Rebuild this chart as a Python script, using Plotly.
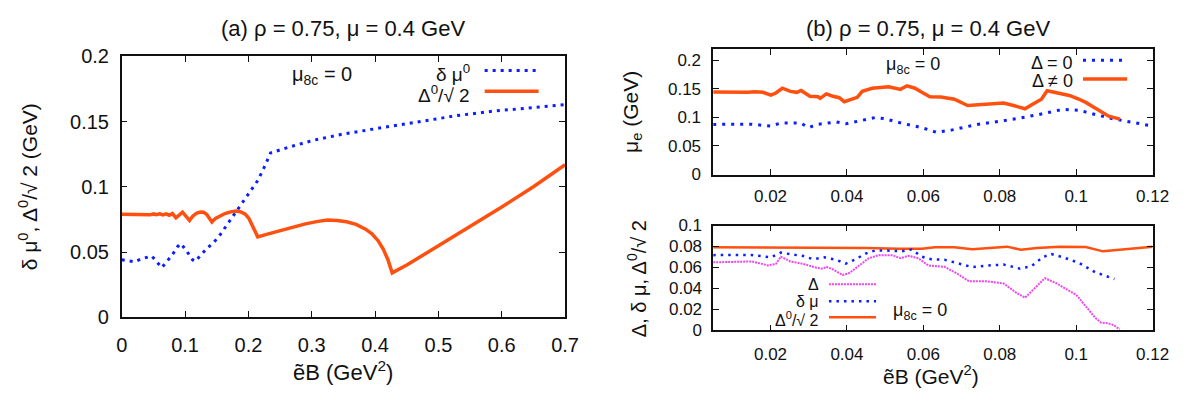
import plotly.graph_objects as go

# ---------------- panel (a): delta mu^0 and Delta^0/sqrt2 vs eB ----------------
eb_a_gap = [0, 0.01, 0.02, 0.03, 0.04, 0.045, 0.05, 0.055, 0.06, 0.065, 0.07, 0.075,
            0.08, 0.0856, 0.096, 0.107, 0.112, 0.118, 0.124, 0.129, 0.134, 0.138,
            0.1424, 0.148, 0.155, 0.163, 0.172, 0.181, 0.188, 0.195, 0.201, 0.206,
            0.21, 0.2147, 0.23, 0.25, 0.27, 0.29, 0.31, 0.325, 0.34, 0.355, 0.37,
            0.385, 0.395, 0.405, 0.413, 0.42, 0.427, 0.45, 0.5, 0.55, 0.6, 0.65, 0.7]
gap_a = [0.079, 0.079, 0.0789, 0.0788, 0.079, 0.0785, 0.0792, 0.0786, 0.0793, 0.0784,
         0.0792, 0.0782, 0.0795, 0.0762, 0.0805, 0.0742, 0.0775, 0.0797, 0.0807,
         0.0805, 0.079, 0.0765, 0.073, 0.0758, 0.0778, 0.0795, 0.0808, 0.0815,
         0.0808, 0.079, 0.0755, 0.070, 0.0655, 0.0616, 0.0637, 0.0665, 0.0692,
         0.0716, 0.0735, 0.0745, 0.0742, 0.0732, 0.0712, 0.0675, 0.064, 0.0585,
         0.052, 0.0445, 0.034, 0.040, 0.0548, 0.0695, 0.0845, 0.100, 0.117]

eb_a_dmu = [0, 0.01, 0.02, 0.03, 0.04, 0.047, 0.052, 0.058, 0.063, 0.07, 0.08, 0.088,
            0.093, 0.1, 0.107, 0.112, 0.116, 0.125, 0.135, 0.145, 0.155, 0.165,
            0.175, 0.185, 0.195, 0.205, 0.215, 0.225, 0.235, 0.268, 0.303, 0.351,
            0.41, 0.469, 0.528, 0.587, 0.65, 0.7]
dmu_a = [0.044, 0.0435, 0.0425, 0.0445, 0.046, 0.047, 0.0445, 0.0405, 0.038, 0.042,
         0.048, 0.054, 0.0565, 0.0525, 0.0475, 0.044, 0.0428, 0.048, 0.053, 0.0572,
         0.063, 0.070, 0.077, 0.084, 0.091, 0.097, 0.105, 0.115, 0.126, 0.131,
         0.1357, 0.1406, 0.1454, 0.150, 0.1545, 0.158, 0.1605, 0.163]

# ---------------- panel (b) top: electron chemical potential ----------------
eb_b_mue_gap = [0.005, 0.008, 0.011, 0.014, 0.016, 0.018, 0.0201, 0.0214, 0.0231,
                0.0252, 0.0269, 0.028, 0.0303, 0.0325, 0.033, 0.0346, 0.0363, 0.038,
                0.0393, 0.0414, 0.0427, 0.044, 0.0466, 0.0509, 0.0518, 0.054, 0.0557,
                0.0578, 0.0596, 0.0617, 0.0646, 0.0681, 0.0716, 0.0758, 0.081,
                0.0836, 0.0866, 0.0887, 0.0909, 0.0924, 0.0956, 0.0982, 0.1008,
                0.1025, 0.1045, 0.1065, 0.1085, 0.1115]
mue_gap = [0.1445, 0.1442, 0.1447, 0.1440, 0.1450, 0.1438, 0.1388, 0.1427, 0.1510,
           0.1455, 0.1438, 0.1471, 0.137, 0.136, 0.1333, 0.141, 0.137, 0.1344,
           0.1273, 0.1317, 0.1350, 0.1455, 0.151, 0.1537, 0.1526, 0.149, 0.1553,
           0.151, 0.1438, 0.136, 0.1355, 0.1317, 0.1207, 0.123, 0.125, 0.1207,
           0.1151, 0.1235, 0.1317, 0.1466, 0.1427, 0.1383, 0.1317, 0.1262, 0.118,
           0.1095, 0.102, 0.097]

eb_b_mue_nogap = [0.005, 0.01, 0.015, 0.0201, 0.0227, 0.0278, 0.030, 0.032, 0.0372,
                  0.0397, 0.0423, 0.0474, 0.050, 0.054, 0.0596, 0.0634, 0.0673,
                  0.0741, 0.0827, 0.0896, 0.0965, 0.1008, 0.105, 0.11, 0.115, 0.12]
mue_nogap = [0.0877, 0.0877, 0.0880, 0.0848, 0.0903, 0.0903, 0.082, 0.0876, 0.092,
             0.0887, 0.092, 0.0997, 0.0975, 0.0903, 0.082, 0.0738, 0.0777, 0.0876,
             0.0959, 0.1041, 0.114, 0.1124, 0.105, 0.097, 0.091, 0.0848]

# ---------------- panel (b) bottom: gaps and delta mu ----------------
eb_b_gap0 = [0.005, 0.015, 0.025, 0.035, 0.045, 0.0536, 0.0596, 0.063, 0.0681,
             0.0728, 0.0784, 0.0819, 0.0855, 0.0897, 0.0957, 0.1025, 0.107, 0.112,
             0.12]
gap0_b = [0.0793, 0.0793, 0.0792, 0.0793, 0.0787, 0.0778, 0.0780, 0.0793, 0.0793,
          0.0774, 0.0793, 0.0799, 0.0769, 0.0786, 0.0799, 0.0795, 0.0754, 0.0772,
          0.0799]

eb_b_dmu = [0.005, 0.01, 0.015, 0.0201, 0.0227, 0.0252, 0.0286, 0.0312, 0.0342,
            0.0372, 0.0397, 0.0423, 0.0449, 0.0474, 0.050, 0.0544, 0.0569, 0.0596,
            0.0621, 0.0656, 0.069, 0.0728, 0.0767, 0.081, 0.0853, 0.0883, 0.0913,
            0.0935, 0.0966, 0.1008, 0.105, 0.110]
dmu_b = [0.0718, 0.0716, 0.0720, 0.0697, 0.0742, 0.0727, 0.0709, 0.0679, 0.0697,
         0.0673, 0.0637, 0.0679, 0.0733, 0.0763, 0.0763, 0.0754, 0.0772, 0.0703,
         0.0679, 0.0673, 0.0643, 0.0604, 0.0619, 0.0628, 0.0589, 0.0613, 0.0700,
         0.0728, 0.0697, 0.0643, 0.0555, 0.049]

eb_b_gap = [0.005, 0.01, 0.0152, 0.0193, 0.0214, 0.0227, 0.0252, 0.0286, 0.032,
            0.0337, 0.0346, 0.0363, 0.0389, 0.0406, 0.0431, 0.0457, 0.0483, 0.0518,
            0.054, 0.0561, 0.0587, 0.0613, 0.0656, 0.069, 0.072, 0.0767, 0.081,
            0.0844, 0.0866, 0.0887, 0.0918, 0.0948, 0.0977, 0.100, 0.1016, 0.1035,
            0.105, 0.1065, 0.108, 0.1095, 0.1114]
gap_b = [0.0649, 0.0650, 0.0658, 0.0620, 0.0634, 0.0703, 0.0658, 0.0634, 0.0598,
         0.0589, 0.0607, 0.0583, 0.0529, 0.0547, 0.0613, 0.0688, 0.0718, 0.0718,
         0.0688, 0.0712, 0.0688, 0.0619, 0.0607, 0.0538, 0.0468, 0.0468, 0.0448,
         0.0357, 0.0312, 0.0387, 0.0498, 0.045, 0.039, 0.034, 0.027, 0.018, 0.012,
         0.0075, 0.007, 0.0055, 0.0012]

x_ticks_a = [0, 0.1, 0.2, 0.3, 0.4, 0.5, 0.6, 0.7]
x_labels_a = ["0", "0.1", "0.2", "0.3", "0.4", "0.5", "0.6", "0.7"]
y_ticks_a = [0, 0.05, 0.1, 0.15, 0.2]
y_labels_a = ["0", "0.05", "0.1", "0.15", "0.2"]
x_ticks_b = [0.02, 0.04, 0.06, 0.08, 0.1, 0.12]
x_labels_b = ["0.02", "0.04", "0.06", "0.08", "0.1", "0.12"]
y_ticks_bt = [0, 0.05, 0.1, 0.15, 0.2]
y_labels_bt = ["0", "0.05", "0.1", "0.15", "0.2"]
y_ticks_bb = [0, 0.02, 0.04, 0.06, 0.08, 0.1]
y_labels_bb = ["0", "0.02", "0.04", "0.06", "0.08", "0.1"]

W, H = 1202, 401
FONT = "Liberation Sans, Arial, Helvetica, sans-serif"
ORANGE = "#ff5010"
BLUE = "#0a1eff"
PINK = "#f045f0"


def px(x):
    return x / W


def py(y):
    return 1 - y / H


fig = go.Figure()

# panel (a)
fig.add_trace(go.Scatter(x=eb_a_dmu, y=dmu_a, mode="lines", xaxis="x", yaxis="y",
                         line=dict(color=BLUE, width=3, dash="3px,5px")))
fig.add_trace(go.Scatter(x=eb_a_gap, y=gap_a, mode="lines", xaxis="x", yaxis="y",
                         line=dict(color=ORANGE, width=3.5)))
# panel (b) top
fig.add_trace(go.Scatter(x=eb_b_mue_nogap, y=mue_nogap, mode="lines", xaxis="x2", yaxis="y2",
                         line=dict(color=BLUE, width=3, dash="3px,6px")))
fig.add_trace(go.Scatter(x=eb_b_mue_gap, y=mue_gap, mode="lines", xaxis="x2", yaxis="y2",
                         line=dict(color=ORANGE, width=3.5)))
# panel (b) bottom
fig.add_trace(go.Scatter(x=eb_b_gap0, y=gap0_b, mode="lines", xaxis="x3", yaxis="y3",
                         line=dict(color=ORANGE, width=2.5)))
fig.add_trace(go.Scatter(x=eb_b_dmu, y=dmu_b, mode="lines", xaxis="x3", yaxis="y3",
                         line=dict(color=BLUE, width=2.5, dash="2.5px,5px")))
fig.add_trace(go.Scatter(x=eb_b_gap, y=gap_b, mode="lines", xaxis="x3", yaxis="y3",
                         line=dict(color=PINK, width=2, dash="2px,1px")))

axis_common = dict(showgrid=False, zeroline=False, showline=True, linecolor="#111",
                   linewidth=1.5, mirror="ticks", ticks="inside", ticklen=6,
                   tickcolor="#111", tickwidth=1)

fig.update_layout(
    width=W, height=H, margin=dict(l=0, r=0, t=0, b=0),
    paper_bgcolor="white", plot_bgcolor="white", showlegend=False,
    font=dict(family=FONT, color="#111"),
    xaxis=dict(axis_common, domain=[px(118), px(570)], range=[0, 0.7], anchor="y",
               tickvals=x_ticks_a, ticktext=x_labels_a, tickfont=dict(size=20),
               ticklabelstandoff=9),
    yaxis=dict(axis_common, domain=[py(324), py(48)], range=[0, 0.2], anchor="x",
               tickvals=y_ticks_a, ticktext=y_labels_a, tickfont=dict(size=20),
               ticklabelstandoff=7),
    xaxis2=dict(axis_common, domain=[px(721), px(1169)], range=[0.005, 0.12], anchor="y2",
                tickvals=x_ticks_b, ticktext=x_labels_b, tickfont=dict(size=17),
                ticklabelstandoff=5),
    yaxis2=dict(axis_common, domain=[py(173), py(40)], range=[0, 0.22], anchor="x2",
                tickvals=y_ticks_bt, ticktext=y_labels_bt, tickfont=dict(size=17),
                ticklabelstandoff=7),
    xaxis3=dict(axis_common, domain=[px(721), px(1169)], range=[0.005, 0.12], anchor="y3",
                tickvals=x_ticks_b, ticktext=x_labels_b, tickfont=dict(size=17),
                ticklabelstandoff=7),
    yaxis3=dict(axis_common, domain=[py(338), py(227)], range=[0, 0.1], anchor="x3",
                tickvals=y_ticks_bb, ticktext=y_labels_bb, tickfont=dict(size=17),
                ticklabelstandoff=6),
)


def label(text, x, y, size, xanchor="center", angle=0):
    fig.add_annotation(text=text, x=px(x), y=py(y), xref="paper", yref="paper",
                       xanchor=xanchor, yanchor="middle", showarrow=False,
                       textangle=angle, font=dict(size=size, family=FONT, color="#111"))


def key(x0, x1, y, color, width, dash="solid"):
    fig.add_shape(type="line", xref="paper", yref="paper", x0=px(x0), x1=px(x1),
                  y0=py(y), y1=py(y), line=dict(color=color, width=width, dash=dash))


# titles
label("(a) ρ = 0.75, μ = 0.4 GeV", 344, 19, 22)
label("(b) ρ = 0.75, μ = 0.4 GeV", 940, 19, 22)

# axis titles
label("ẽB (GeV<sup>2</sup>)", 344, 381, 22)
label("ẽB (GeV<sup>2</sup>)", 943, 385, 21)
label("δ μ<sup>0</sup>, Δ<sup>0</sup>/√ 2 (GeV)", 22, 186, 21, angle=-90)
label("μ<sub>e</sub> (GeV)", 638, 107, 21, angle=-90)
label("Δ, δ μ, Δ<sup>0</sup>/√ 2", 643, 283, 20, angle=-90)

# panel (a) notes and key
label("μ<sub>8c</sub> = 0", 322, 68, 20)
label("δ μ<sup>0</sup>", 475, 66, 19, xanchor="right")
key(488, 543, 63, BLUE, 3, "3px,5px")
label("Δ<sup>0</sup>/√ 2", 475, 88, 19, xanchor="right")
key(488, 543, 85, ORANGE, 3.5)

# panel (b) top notes and key
label("μ<sub>8c</sub> = 0", 925, 58, 18)
label("Δ = 0", 1090, 55, 18, xanchor="right")
key(1098, 1143, 52, BLUE, 3, "3px,6px")
label("Δ ≠ 0", 1090, 74, 18, xanchor="right")
key(1098, 1143, 72, ORANGE, 3.5)

# panel (b) bottom notes and key
label("Δ", 831, 289, 16, xanchor="right")
key(839, 887, 289, PINK, 2, "2px,1px")
label("δ μ", 831, 307, 16, xanchor="right")
key(839, 887, 307, BLUE, 2.5, "2.5px,5px")
label("Δ<sup>0</sup>/√ 2", 831, 326, 16, xanchor="right")
key(839, 887, 324, ORANGE, 2.5)
label("μ<sub>8c</sub> = 0", 932, 318, 18)

fig.write_html("out.html")
